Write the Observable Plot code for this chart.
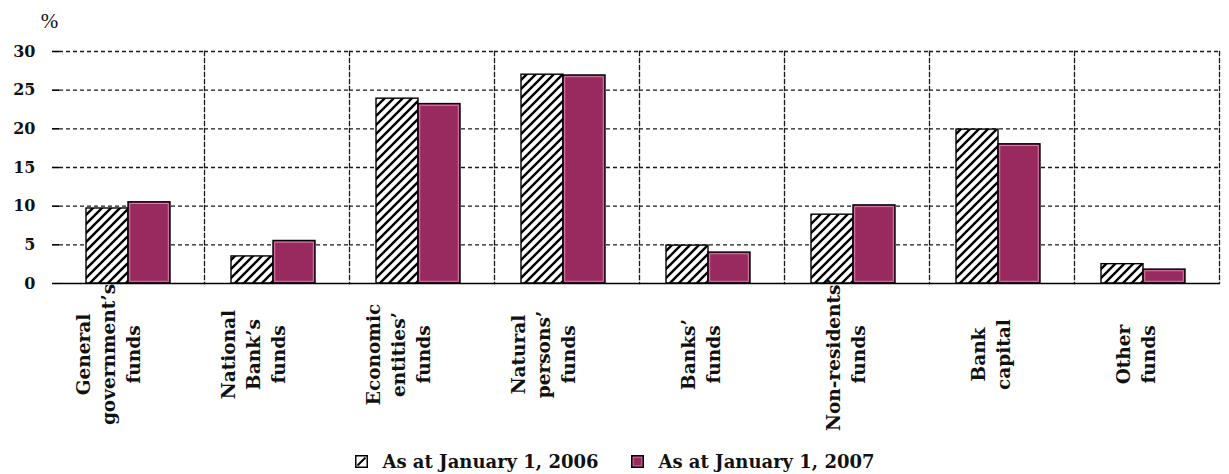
<!DOCTYPE html>
<html>
<head>
<meta charset="utf-8">
<script src="https://cdn.jsdelivr.net/npm/d3@7"></script>
<script src="https://cdn.jsdelivr.net/npm/@observablehq/plot@0.6"></script>
<style>
  body { margin: 0; background: #fff; }
  #chart svg { display: block; }
  .legend {
    display: flex; justify-content: center; align-items: center;
    height: 34px; padding-top: 4px;
    font-family: "DejaVu Serif"; font-weight: bold; font-size: 18px; color: #111;
  }
  .legend .item { display: flex; align-items: center; margin: 0 16px; }
  .legend svg { margin-right: 15px; }
</style>
</head>
<body>
<div id="chart"></div>
<div class="legend" id="legend"></div>
<script>
// Structure of resources, % of total
const categories = [
  "General\ngovernment’s\nfunds",
  "National\nBank’s\nfunds",
  "Economic\nentities’\nfunds",
  "Natural\npersons’\nfunds",
  "Banks’\nfunds",
  "Non-residents’\nfunds",
  "Bank\ncapital",
  "Other\nfunds"
];
const seriesKeys = ["2006", "2007"];
const seriesNames = ["As at January 1, 2006", "As at January 1, 2007"];
const share2006 = [9.7, 3.5, 23.9, 27.0, 4.9, 8.9, 19.9, 2.5];
const share2007 = [10.5, 5.5, 23.2, 26.9, 4.0, 10.1, 18.0, 1.8];
const yTicks = [0, 5, 10, 15, 20, 25, 30];

const rows = categories.flatMap((c, i) => [
  {category: c, series: seriesKeys[0], value: share2006[i]},
  {category: c, series: seriesKeys[1], value: share2007[i]}
]);

const MAGENTA = "#982a60";
const dashed = {stroke: "#1a1a1a", strokeWidth: 1.3, strokeDasharray: "4,3"};

const chart = Plot.plot({
  width: 1229,
  height: 440,
  marginLeft: 55,
  marginRight: 7,
  marginTop: 51,
  marginBottom: 157,
  style: {fontFamily: "DejaVu Serif", fontSize: "16px", color: "#111", background: "#fff"},
  fx: {domain: categories, padding: 0, axis: null},
  x: {domain: seriesKeys, paddingInner: 0, paddingOuter: 0.72, align: 0.45, axis: null},
  y: {domain: [0, 30], axis: null},
  color: {domain: seriesKeys, range: ["url(#hatch)", MAGENTA]},
  marks: [
    // dashed grid: horizontal levels and category separators
    Plot.ruleY(yTicks.filter(d => d > 0), dashed),
    Plot.frame({anchor: "right", ...dashed}),
    // bars
    Plot.barY(rows, {fx: "category", x: "series", y: "value", fill: "series", stroke: "#000", strokeWidth: 1.4}),
    Plot.barY(rows.filter(d => d.series === seriesKeys[1]), {
      fx: "category", x: "series", y: "value", fill: "none", stroke: "#d77ca7", strokeWidth: 1, inset: 1.7
    }),
    // baseline and y axis
    Plot.ruleY([0], {stroke: "#000", strokeWidth: 1.6}),
    Plot.axisY({
      ticks: yTicks, tickSize: 7, tickPadding: 17, tickFormat: d => String(d),
      line: true, stroke: "#000", strokeWidth: 1.6, fontWeight: "bold", fontSize: 16, label: null
    }),
    // category labels, rotated
    Plot.text(categories, {
      fx: d => d, text: d => d, frameAnchor: "bottom", dy: 71, dx: 8,
      rotate: -90, textAnchor: "middle", lineHeight: 1.35,
      fontWeight: "bold", fontSize: 18.5, fill: "#111"
    }),
    // unit label
    Plot.text(["%"], {
      fx: () => categories[0], text: d => d, frameAnchor: "top-left",
      dx: -10, dy: -38, textAnchor: "middle", fontFamily: "Liberation Serif", fontSize: 21, fill: "#111"
    })
  ]
});

// hatch pattern used by the 2006 bars
const ns = "http://www.w3.org/2000/svg";
const defs = document.createElementNS(ns, "defs");
defs.innerHTML = `
  <pattern id="hatch" patternUnits="userSpaceOnUse" width="9" height="9">
    <rect width="9" height="9" fill="#fff"/>
    <path d="M-2.25,2.25 l4.5,-4.5 M0,9 l9,-9 M6.75,11.25 l4.5,-4.5" stroke="#000" stroke-width="2.4"/>
  </pattern>`;
chart.insertBefore(defs, chart.firstChild);
document.getElementById("chart").appendChild(chart);

// legend
const swatches = [
  `<svg width="13" height="13"><rect x="0.75" y="0.75" width="11.5" height="11.5" fill="#fff" stroke="#000" stroke-width="1.5"/><path d="M2.5,10.5 L10.5,2.5" stroke="#000" stroke-width="2"/></svg>`,
  `<svg width="13" height="13"><rect x="0.75" y="0.75" width="11.5" height="11.5" fill="${MAGENTA}" stroke="#000" stroke-width="1.5"/><rect x="2.2" y="2.2" width="8.6" height="8.6" fill="none" stroke="#d77ca7" stroke-width="0.8"/></svg>`
];
document.getElementById("legend").innerHTML = seriesNames
  .map((name, i) => `<span class="item">${swatches[i]}<span>${name}</span></span>`)
  .join("");
</script>
</body>
</html>
